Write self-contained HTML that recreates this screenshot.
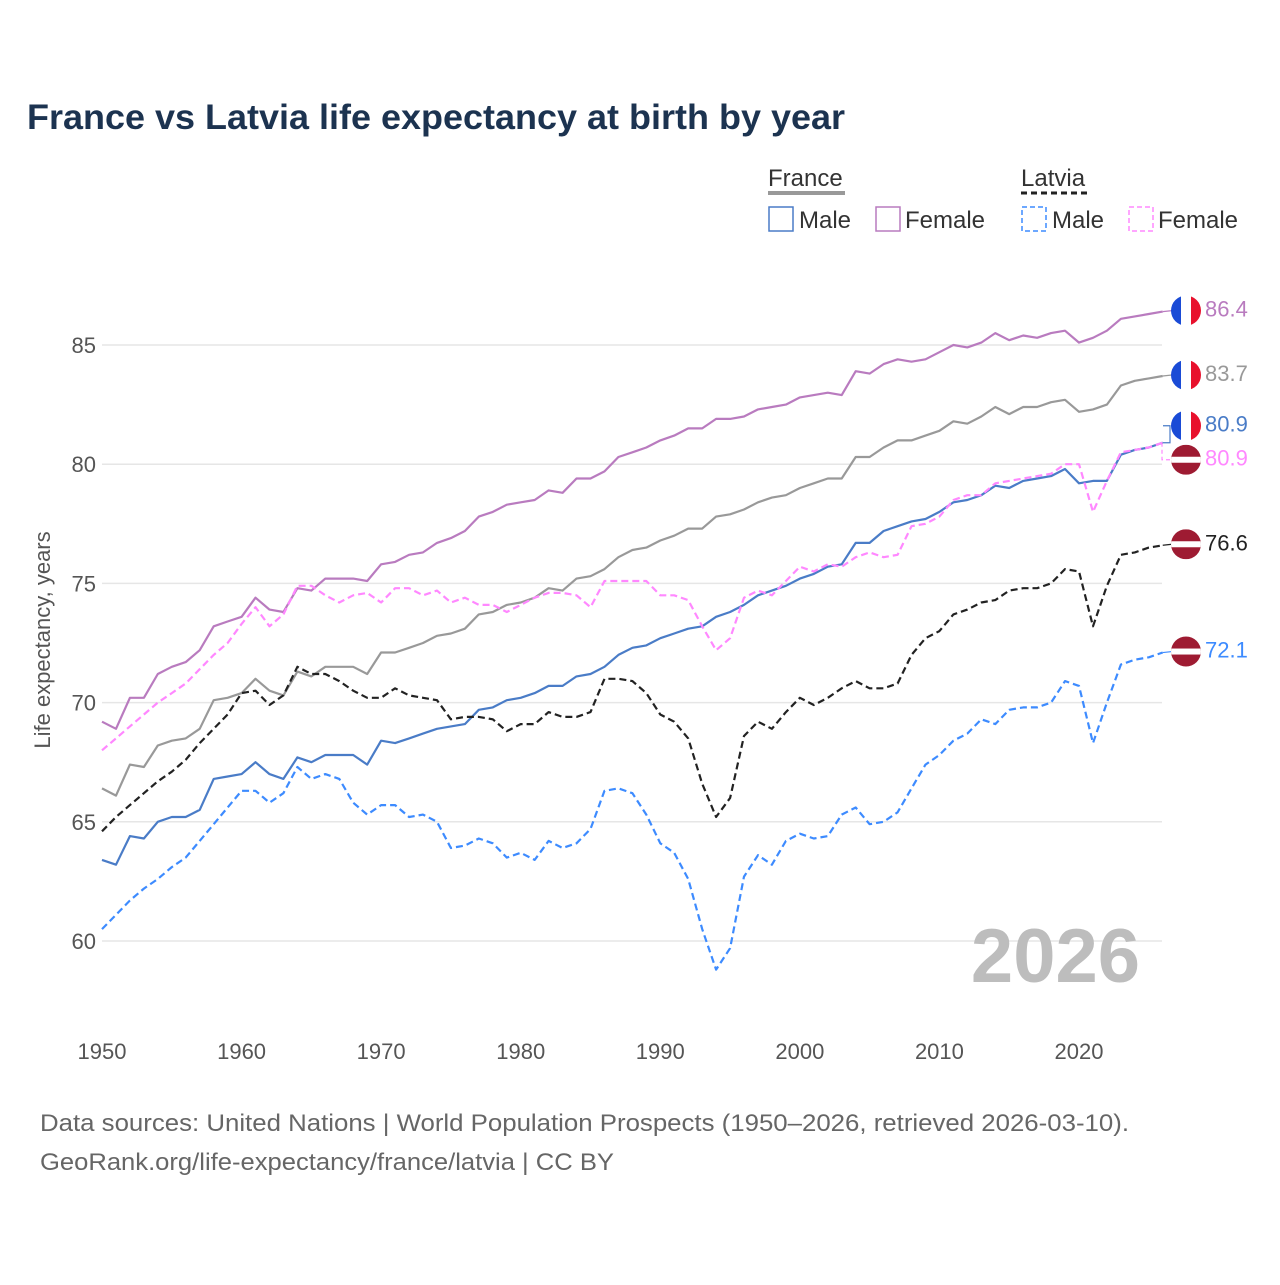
<!DOCTYPE html>
<html><head><meta charset="utf-8"><style>
body{margin:0;background:#fff;font-family:"Liberation Sans",sans-serif}
</style></head><body>
<svg id="chart" width="1280" height="1280" xmlns="http://www.w3.org/2000/svg" font-family="Liberation Sans, sans-serif">
<defs>
<clipPath id="cf"><circle cx="0" cy="0" r="15"/></clipPath>
</defs>
<text x="27" y="129" font-size="35" font-weight="bold" fill="#1c3350" textLength="818" lengthAdjust="spacingAndGlyphs">France vs Latvia life expectancy at birth by year</text>
<g font-size="24" fill="#333">
<text x="768" y="186">France</text>
<line x1="768" y1="193" x2="845" y2="193" stroke="#999" stroke-width="4"/>
<text x="1021" y="186">Latvia</text>
<line x1="1021" y1="193" x2="1090" y2="193" stroke="#222" stroke-width="3" stroke-dasharray="6,4"/>
<g><rect x="769" y="207" width="24" height="24" fill="none" stroke="#4a7cc7" stroke-width="1.5"/><text x="799" y="228">Male</text></g>
<g><rect x="876" y="207" width="24" height="24" fill="none" stroke="#b97bbf" stroke-width="1.5"/><text x="905" y="228">Female</text></g>
<g><rect x="1022" y="207" width="24" height="24" fill="none" stroke="#3d8bff" stroke-width="1.5" stroke-dasharray="5,3"/><text x="1052" y="228">Male</text></g>
<g><rect x="1129" y="207" width="24" height="24" fill="none" stroke="#ff88ff" stroke-width="1.5" stroke-dasharray="5,3"/><text x="1158" y="228">Female</text></g>
</g>
<g id="grid"></g>
<text transform="translate(50,640) rotate(-90)" text-anchor="middle" font-size="22" fill="#555">Life expectancy, years</text>
<text x="1140" y="982" text-anchor="end" font-size="76" font-weight="bold" fill="#bdbdbd">2026</text>
<g id="series"></g>
<g id="ends"></g>
<text x="40" y="1131" font-size="24" fill="#666" textLength="1089" lengthAdjust="spacingAndGlyphs">Data sources: United Nations | World Population Prospects (1950–2026, retrieved 2026-03-10).</text>
<text x="40" y="1170" font-size="24" fill="#666" textLength="574" lengthAdjust="spacingAndGlyphs">GeoRank.org/life-expectancy/france/latvia | CC BY</text>
</svg>
<script>
const years = Array.from({length:77},(_, i)=>1950+i);
const xTicks = [1950,1960,1970,1980,1990,2000,2010,2020];
const yTicks = [60,65,70,75,80,85];
const franceFemale=[69.2,68.9,70.2,70.2,71.2,71.5,71.7,72.2,73.2,73.4,73.6,74.4,73.9,73.8,74.8,74.7,75.2,75.2,75.2,75.1,75.8,75.9,76.2,76.3,76.7,76.9,77.2,77.8,78.0,78.3,78.4,78.5,78.9,78.8,79.4,79.4,79.7,80.3,80.5,80.7,81.0,81.2,81.5,81.5,81.9,81.9,82.0,82.3,82.4,82.5,82.8,82.9,83.0,82.9,83.9,83.8,84.2,84.4,84.3,84.4,84.7,85.0,84.9,85.1,85.5,85.2,85.4,85.3,85.5,85.6,85.1,85.3,85.6,86.1,86.2,86.3,86.4];
const franceTotal=[66.4,66.1,67.4,67.3,68.2,68.4,68.5,68.9,70.1,70.2,70.4,71.0,70.5,70.3,71.3,71.1,71.5,71.5,71.5,71.2,72.1,72.1,72.3,72.5,72.8,72.9,73.1,73.7,73.8,74.1,74.2,74.4,74.8,74.7,75.2,75.3,75.6,76.1,76.4,76.5,76.8,77.0,77.3,77.3,77.8,77.9,78.1,78.4,78.6,78.7,79.0,79.2,79.4,79.4,80.3,80.3,80.7,81.0,81.0,81.2,81.4,81.8,81.7,82.0,82.4,82.1,82.4,82.4,82.6,82.7,82.2,82.3,82.5,83.3,83.5,83.6,83.7];
const franceMale=[63.4,63.2,64.4,64.3,65.0,65.2,65.2,65.5,66.8,66.9,67.0,67.5,67.0,66.8,67.7,67.5,67.8,67.8,67.8,67.4,68.4,68.3,68.5,68.7,68.9,69.0,69.1,69.7,69.8,70.1,70.2,70.4,70.7,70.7,71.1,71.2,71.5,72.0,72.3,72.4,72.7,72.9,73.1,73.2,73.6,73.8,74.1,74.5,74.7,74.9,75.2,75.4,75.7,75.8,76.7,76.7,77.2,77.4,77.6,77.7,78.0,78.4,78.5,78.7,79.1,79.0,79.3,79.4,79.5,79.8,79.2,79.3,79.3,80.4,80.6,80.7,80.9];
const latviaFemale=[68.0,68.5,69.0,69.5,70.0,70.4,70.8,71.4,72.0,72.5,73.3,74.0,73.2,73.7,74.9,74.9,74.5,74.2,74.5,74.6,74.2,74.8,74.8,74.5,74.7,74.2,74.4,74.1,74.1,73.8,74.1,74.4,74.6,74.6,74.5,74.0,75.1,75.1,75.1,75.1,74.5,74.5,74.3,73.2,72.2,72.7,74.4,74.7,74.5,75.1,75.7,75.5,75.8,75.7,76.1,76.3,76.1,76.2,77.4,77.5,77.8,78.5,78.7,78.7,79.2,79.3,79.4,79.5,79.6,80.0,80.0,78.0,79.3,80.5,80.6,80.7,80.9];
const latviaTotal=[64.6,65.2,65.7,66.2,66.7,67.1,67.6,68.3,68.9,69.5,70.4,70.5,69.9,70.3,71.5,71.2,71.2,70.9,70.5,70.2,70.2,70.6,70.3,70.2,70.1,69.3,69.4,69.4,69.3,68.8,69.1,69.1,69.6,69.4,69.4,69.6,71.0,71.0,70.9,70.4,69.5,69.2,68.5,66.6,65.2,66.0,68.6,69.2,68.9,69.6,70.2,69.9,70.2,70.6,70.9,70.6,70.6,70.8,72.0,72.7,73.0,73.7,73.9,74.2,74.3,74.7,74.8,74.8,75.0,75.6,75.5,73.2,74.9,76.2,76.3,76.5,76.6];
const latviaMale=[60.5,61.1,61.7,62.2,62.6,63.1,63.5,64.2,64.9,65.6,66.3,66.3,65.8,66.2,67.3,66.8,67.0,66.8,65.8,65.3,65.7,65.7,65.2,65.3,65.0,63.9,64.0,64.3,64.1,63.5,63.7,63.4,64.2,63.9,64.1,64.7,66.3,66.4,66.2,65.3,64.1,63.7,62.6,60.5,58.8,59.7,62.7,63.6,63.2,64.2,64.5,64.3,64.4,65.3,65.6,64.9,65.0,65.4,66.4,67.4,67.8,68.4,68.7,69.3,69.1,69.7,69.8,69.8,70.0,70.9,70.7,68.3,70.0,71.6,71.8,71.9,72.1];

const NS="http://www.w3.org/2000/svg";
const X=y=>102+(y-1950)*(1079-102)/70;
const Y=v=>941-(v-60)*(941-345)/25;
const grid=document.getElementById('grid');
function mk(tag,attrs,parent){const e=document.createElementNS(NS,tag);for(const k in attrs)e.setAttribute(k,attrs[k]);parent.appendChild(e);return e;}
yTicks.forEach(t=>{
  const l=mk('line',{x1:102,x2:1162,y1:Y(t),y2:Y(t),stroke:'#e6e6e6','stroke-width':1.5},grid);
  
  
  const tx=mk('text',{x:96,y:Y(t)+8,'text-anchor':'end','font-size':22,fill:'#555'},grid);
  tx.textContent=t;
  
  
});
xTicks.forEach(t=>{
  const tx=mk('text',{x:X(t),y:1059,'text-anchor':'middle','font-size':22,fill:'#555'},grid);
  tx.textContent=t;
  
  
});
const series=[
 ['france-female',franceFemale,'#b97bbf',null,'FR','#b97bbf'],
 ['france-total',franceTotal,'#999',null,'FR','#999'],
 ['france-male',franceMale,'#4a7cc7',null,'FR','#4a7cc7'],
 ['latvia-female',latviaFemale,'#ff88ff','7,4','LV','#ff88ff'],
 ['latvia-total',latviaTotal,'#222','7,4','LV','#222'],
 ['latvia-male',latviaMale,'#3d8bff','7,4','LV','#3d8bff']
];
const sg=document.getElementById('series'), eg=document.getElementById('ends');
series.forEach(([name,vals,col,dash,flag,tcol])=>{
  const d=vals.map((v,i)=>(i?'L':'M')+X(years[i]).toFixed(1)+','+Y(v).toFixed(1)).join('');
  const p=mk('path',{d:d,fill:'none',stroke:col,'stroke-width':2.2,'stroke-linejoin':'round'},sg);
  if(dash)p.setAttribute('stroke-dasharray',dash);
  
  
  const last=vals[vals.length-1];
  let cy=Y(last)-1;
  if(name==='france-male'){
    cy=Y(last)-17;
    mk('path',{d:`M${X(2026)},${Y(last)} L1170,${Y(last)} L1170,${cy} L1163,${cy}`,fill:'none',stroke:col,'stroke-width':1.2},eg);
  } else if(name==='latvia-female'){
    cy=Y(last)+17;
    mk('path',{d:`M1162,${Y(last)} L1162,${cy} L1170,${cy}`,fill:'none',stroke:col,'stroke-width':1.2,'stroke-dasharray':'4,3'},eg);
  } else {
    mk('line',{x1:X(2026),x2:1172,y1:Y(last),y2:cy,stroke:col,'stroke-width':1.2},eg);
  }
  const g=mk('g',{transform:`translate(1186,${cy})`},eg);
  
  
  if(flag==='FR'){
    mk('rect',{x:-15,y:-15,width:10,height:30,fill:'#1a4bd6','clip-path':'url(#cf)'},g);
    mk('rect',{x:-5,y:-15,width:10,height:30,fill:'#fff','clip-path':'url(#cf)'},g);
    mk('rect',{x:5,y:-15,width:10,height:30,fill:'#e8112d','clip-path':'url(#cf)'},g);
  } else {
    mk('rect',{x:-15,y:-15,width:30,height:30,fill:'#9e1b32','clip-path':'url(#cf)'},g);
    mk('rect',{x:-15,y:-3,width:30,height:6,fill:'#fff','clip-path':'url(#cf)'},g);
  }
  const t=mk('text',{x:1205,y:cy+6,'font-size':22,fill:tcol},eg);
  t.textContent=last.toFixed(1);
  
  
});
</script>
</body></html>
